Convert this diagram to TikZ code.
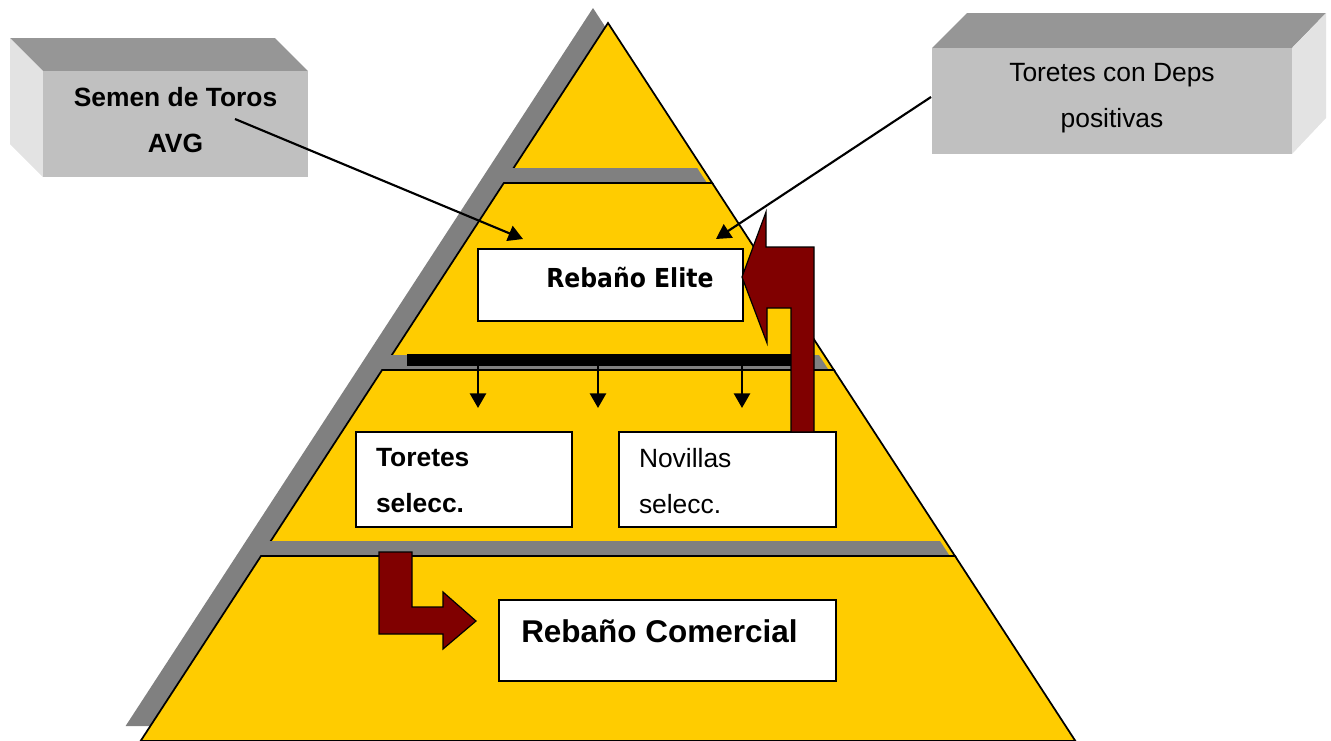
\documentclass[tikz,border=0pt]{standalone}
\usepackage{fontspec}
\setmainfont{Liberation Sans}
\newfontfamily\elitefont[FakeStretch=0.9]{DejaVu Sans}
\usetikzlibrary{arrows.meta}
\definecolor{pyrY}{HTML}{FFCC00}
\definecolor{shadowG}{HTML}{808080}
\definecolor{darkRed}{HTML}{800000}
\definecolor{frontG}{HTML}{C0C0C0}
\definecolor{topG}{HTML}{969696}
\definecolor{sideG}{HTML}{E3E3E3}
\newcommand\fsMain{\fontsize{19.8pt}{34.5pt}\selectfont}
\newcommand\fsBig{\fontsize{23.6pt}{28pt}\selectfont}
\newcommand\fsElite{\fontsize{19.6pt}{24pt}\selectfont}
\begin{document}
\begin{tikzpicture}[x=0.75pt,y=-0.75pt,
  layer/.style={fill=pyrY, draw=black, line width=1.3pt, line join=miter},
  shade3d/.style={fill=shadowG, draw=none},
  whitebox/.style={draw=black, fill=white, line width=1.5pt, inner sep=0pt, outer sep=0pt},
  frontface/.style={fill=frontG, draw=none, inner sep=0pt, outer sep=0pt},
  label/.style={inner sep=0pt, outer sep=0pt, font=\fsMain},
  conn/.style={line width=1.6pt, -{Triangle[length=11pt,width=12pt]}},
  drop/.style={line width=2pt, -{Triangle[length=11pt,width=12pt]}},
  bigarrow/.style={fill=darkRed, draw=black, line width=0.9pt, line join=miter}]
\useasboundingbox (0,0) rectangle (1331,740);

% ---- pyramid layers with shadows ----
\fill[shade3d, shift={(-15,-15)}] (608,23) -- (712.2,183) -- (503.8,183) -- cycle;
\draw[layer] (608,23) -- (712.2,183) -- (503.8,183) -- cycle;
\fill[shade3d, shift={(-15,-15)}] (503.8,183) -- (712.2,183) -- (833.9,370) -- (382.1,370) -- cycle;
\draw[layer] (503.8,183) -- (712.2,183) -- (833.9,370) -- (382.1,370) -- cycle;
\fill[shade3d, shift={(-15,-15)}] (382.1,370) -- (833.9,370) -- (955,556) -- (261,556) -- cycle;
\draw[layer] (382.1,370) -- (833.9,370) -- (955,556) -- (261,556) -- cycle;
\fill[shade3d, shift={(-15,-15)}] (261,556) -- (955,556) -- (1075.4,741) -- (140.6,741) -- cycle;
\draw[layer] (261,556) -- (955,556) -- (1075.4,741) -- (140.6,741) -- cycle;

% ---- 3D grey boxes ----
\fill[topG] (10,38) -- (275,38) -- (308,71) -- (43,71) -- cycle;
\fill[sideG] (10,38) -- (43,71) -- (43,177) -- (10,144) -- cycle;
\node[frontface, minimum width={265*0.75pt}, minimum height={106*0.75pt}] (semen) at (175.5,124) {};
\node[label, font=\fsMain\bfseries, align=center, anchor=north] (semenT) at (175.5,87.5) {Semen de Toros\\AVG};

\fill[topG] (932,48) -- (967,13) -- (1326,13) -- (1292,48) -- cycle;
\fill[sideG] (1292,48) -- (1326,13) -- (1326,118) -- (1292,154) -- cycle;
\node[frontface, minimum width={360*0.75pt}, minimum height={106*0.75pt}] (deps) at (1112,101) {};
\node[label, align=center, anchor=north] (depsT) at (1112,63) {Toretes con Deps\\positivas};

% ---- white boxes ----
\node[whitebox, minimum width={265*0.75pt}, minimum height={72*0.75pt}] (elite) at (610.5,285) {};
\node[inner sep=0pt, anchor=base west, font=\fsElite\elitefont\bfseries] (eliteT) at (546,287) {Rebaño Elite};

\node[whitebox, minimum width={216*0.75pt}, minimum height={95*0.75pt}] (tor) at (464,479.5) {};
\node[label, font=\fsMain\bfseries, align=left, anchor=north west] (torT) at (376,448) {Toretes\\selecc.};

\node[whitebox, minimum width={217*0.75pt}, minimum height={95*0.75pt}] (nov) at (727.5,479.5) {};
\node[label, align=left, anchor=north west] (novT) at (639,448) {Novillas\\selecc.};

\node[whitebox, minimum width={337*0.75pt}, minimum height={81*0.75pt}] (com) at (667.5,640.5) {};
\node[inner sep=0pt, anchor=base west, font=\fsBig\bfseries] (comT) at (521,642) {Rebaño Comercial};

% ---- black distribution bar and drops ----
\fill[black] (407,354) rectangle (800,366);
\coordinate (bar1) at (478,366); \coordinate (bar2) at (598,366); \coordinate (bar3) at (742,366);
\coordinate (drop1) at (478,408); \coordinate (drop2) at (598,408); \coordinate (drop3) at (742,408);
\draw[drop] (bar1) -- (drop1);
\draw[drop] (bar2) -- (drop2);
\draw[drop] (bar3) -- (drop3);

% ---- connectors from grey boxes ----
\coordinate (s1) at (235,119); \coordinate (t1) at (523,239);
\draw[conn] (s1) -- (t1);
\coordinate (s2) at (931,97); \coordinate (t2) at (716,239);
\draw[conn] (s2) -- (t2);

% ---- big dark red arrows ----
\draw[bigarrow] (742,277) -- (766,212) -- (766,247) -- (814,247) -- (814,432) -- (791,432)
  -- (791,308) -- (767,308) -- (767,343) -- cycle;
\draw[bigarrow] (379,552) -- (412,552) -- (412,607) -- (443,607) -- (443,592) -- (476,621)
  -- (443,649) -- (443,634) -- (379,634) -- cycle;
\end{tikzpicture}
\end{document}
